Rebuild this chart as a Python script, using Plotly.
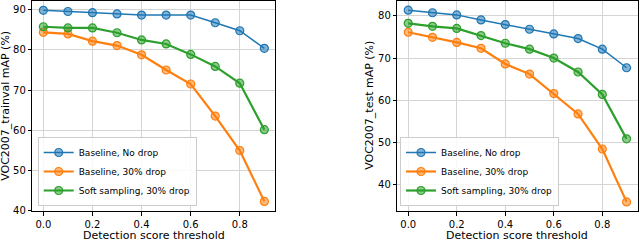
import plotly.graph_objects as go

thresholds = [0.0, 0.1, 0.2, 0.3, 0.4, 0.5, 0.6, 0.7, 0.8, 0.9]

trainval_baseline_nodrop = [89.9, 89.6, 89.3, 89.0, 88.7, 88.7, 88.7, 86.8, 84.8, 80.4]
trainval_baseline_drop30 = [84.4, 84.0, 82.2, 81.1, 78.8, 75.0, 71.5, 63.5, 54.9, 42.2]
trainval_soft_drop30 = [85.8, 85.5, 85.5, 84.3, 82.5, 81.5, 78.9, 75.9, 71.7, 60.1]

test_baseline_nodrop = [81.3, 80.7, 80.2, 79.0, 77.9, 76.8, 75.7, 74.6, 72.1, 67.7]
test_baseline_drop30 = [76.1, 74.9, 73.7, 72.3, 68.6, 66.2, 61.6, 56.8, 48.5, 36.0]
test_soft_drop30 = [78.2, 77.5, 77.0, 75.3, 73.5, 72.1, 70.0, 66.7, 61.4, 50.9]

series_names = ["Baseline, No drop", "Baseline, 30% drop", "Soft sampling, 30% drop"]
x_tick_vals = [0.0, 0.2, 0.4, 0.6, 0.8]
x_tick_text = ["0.0", "0.2", "0.4", "0.6", "0.8"]
left_y_ticks = [40, 50, 60, 70, 80, 90]
right_y_ticks = [40, 50, 60, 70, 80]
x_title = "Detection score threshold"
left_y_title = "VOC2007_trainval mAP (%)"
right_y_title = "VOC2007_test mAP (%)"

colors = ["#1f77b4", "#ff7f0e", "#2ca02c"]
fills = ["rgba(31,119,180,0.55)", "rgba(255,127,14,0.55)", "rgba(44,160,44,0.55)"]
widths = [1.5, 2.2, 2.2]

W, H = 640, 241
FONT = "DejaVu Sans"
fig = go.Figure()

panels = [
    ("x", "y", [trainval_baseline_nodrop, trainval_baseline_drop30, trainval_soft_drop30], "legend"),
    ("x2", "y2", [test_baseline_nodrop, test_baseline_drop30, test_soft_drop30], "legend2"),
]
for xa, ya, data, leg in panels:
    for i, vals in enumerate(data):
        fig.add_trace(go.Scatter(
            x=thresholds, y=vals, mode="lines+markers", name=series_names[i],
            xaxis=xa, yaxis=ya, legend=leg,
            line=dict(color=colors[i], width=widths[i]),
            marker=dict(symbol="circle", size=8, color=fills[i],
                        line=dict(color=colors[i], width=1.2)),
        ))

plot_top, plot_bottom = 0.7, 211.0
ydom = [1 - plot_bottom / H, 1 - plot_top / H]
left_dom = [32.3 / W, 275.4 / W]
right_dom = [397.3 / W, 637.5 / W]
axis_common = dict(
    showline=True, linecolor="black", linewidth=1, mirror=True,
    ticks="outside", ticklen=3.5, tickwidth=0.8, tickcolor="black",
    showgrid=True, gridcolor="#d4d4d4", gridwidth=0.8, zeroline=False,
    tickfont=dict(family=FONT, size=10, color="black"), automargin=False,
)
legend_common = dict(
    xanchor="left", yanchor="bottom",
    bgcolor="rgba(255,255,255,0.85)", bordercolor="#cccccc", borderwidth=1,
    font=dict(family=FONT, size=9, color="black"), tracegroupgap=0, itemwidth=30,
)
fig.update_layout(
    width=W, height=H,
    margin=dict(l=0, r=0, t=0, b=0, autoexpand=False),
    paper_bgcolor="white", plot_bgcolor="white",
    font=dict(family=FONT, color="black"),
    showlegend=True,
    xaxis=dict(domain=left_dom, range=[-0.045, 0.945], tickvals=x_tick_vals,
               ticktext=x_tick_text, anchor="y", **axis_common),
    yaxis=dict(domain=ydom, range=[39.8, 92.3], tickvals=left_y_ticks, anchor="x", **axis_common),
    xaxis2=dict(domain=right_dom, range=[-0.045, 0.945], tickvals=x_tick_vals,
                ticktext=x_tick_text, anchor="y2", **axis_common),
    yaxis2=dict(domain=ydom, range=[33.85, 83.55], tickvals=right_y_ticks, anchor="x2", **axis_common),
    legend=dict(x=37.7 / W, y=(H - 206) / H, **legend_common),
    legend2=dict(x=400 / W, y=(H - 206) / H, **legend_common),
)

title_font = dict(family=FONT, size=11, color="black")
ymid = 1 - (plot_top + plot_bottom) / 2 / H
for dom in (left_dom, right_dom):
    fig.add_annotation(text=x_title, xref="paper", yref="paper",
                       x=(dom[0] + dom[1]) / 2, y=(H - 226.5) / H,
                       xanchor="center", yanchor="top", showarrow=False, font=title_font)
fig.add_annotation(text=left_y_title, xref="paper", yref="paper", x=6 / W, y=ymid,
                   textangle=-90, xanchor="center", yanchor="middle", showarrow=False, font=title_font)
fig.add_annotation(text=right_y_title, xref="paper", yref="paper", x=370 / W, y=ymid,
                   textangle=-90, xanchor="center", yanchor="middle", showarrow=False, font=title_font)

fig.write_html(
    "out.html",
    config={"displayModeBar": False},
    post_script="document.body.style.margin='0';document.body.style.overflow='hidden';",
)
